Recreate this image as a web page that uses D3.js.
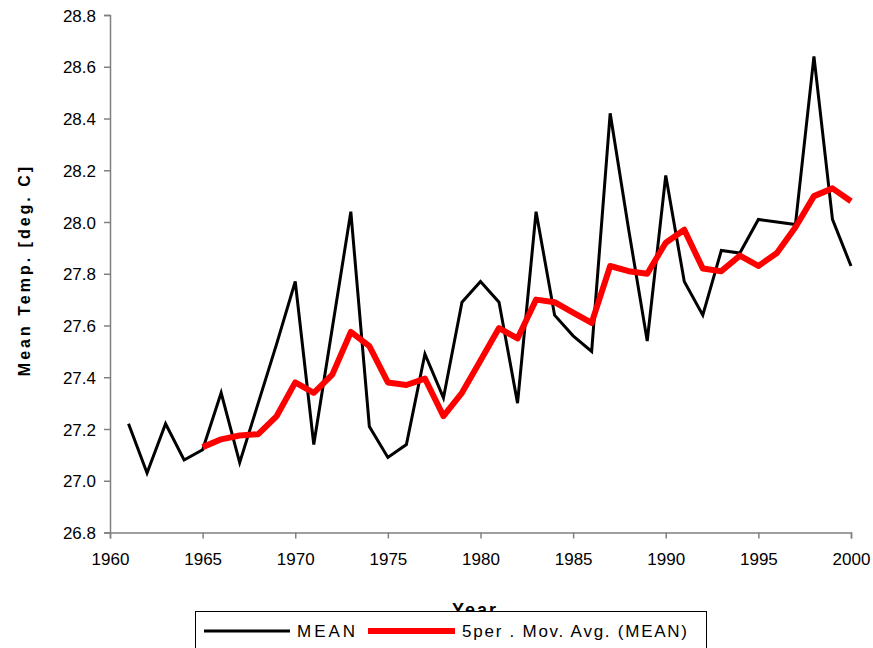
<!DOCTYPE html>
<html>
<head>
<meta charset="utf-8">
<script src="https://cdn.jsdelivr.net/npm/d3@7"></script>
<style>
  html, body { margin: 0; padding: 0; background: #fff; }
  svg { display: block; }
  text { font-family: "Liberation Sans", Arial, sans-serif; }
</style>
</head>
<body>
<svg id="chart" width="873" height="648"></svg>
<script>
const years = d3.range(1961, 2001);
const meanValues = [
  27.22, 27.03, 27.22, 27.08, 27.12, 27.34, 27.07, 27.30, 27.53, 27.77,
  27.14, 27.59, 28.04, 27.21, 27.09, 27.14, 27.49, 27.32, 27.69, 27.77,
  27.69, 27.30, 28.04, 27.64, 27.56, 27.50, 28.42, 27.97, 27.54, 28.18,
  27.77, 27.64, 27.89, 27.88, 28.01, 28.00, 27.99, 28.64, 28.01, 27.83
];
const movAvgYears = d3.range(1965, 2001);
const movAvgValues = [
  27.13, 27.16, 27.175, 27.18, 27.25, 27.38, 27.34, 27.41, 27.575, 27.52,
  27.38, 27.37, 27.395, 27.25, 27.34, 27.465, 27.59, 27.55, 27.70, 27.69,
  27.65, 27.61, 27.83, 27.81, 27.80, 27.92, 27.97, 27.82, 27.81, 27.87,
  27.83, 27.88, 27.98, 28.10, 28.13, 28.08
];
const yTicks = [26.8, 27.0, 27.2, 27.4, 27.6, 27.8, 28.0, 28.2, 28.4, 28.6, 28.8];
const xTicks = [1960, 1965, 1970, 1975, 1980, 1985, 1990, 1995, 2000];
const seriesNames = ["MEAN", "5per . Mov. Avg. (MEAN)"];

const svg = d3.select("#chart");
const x = d3.scaleLinear().domain([1960, 2000]).range([110, 851]);
const y = d3.scaleLinear().domain([26.8, 28.8]).range([532.5, 15]);

// axes
const xAxis = svg.append("g").attr("transform", "translate(0,532.5)")
  .call(d3.axisBottom(x).tickValues(xTicks).tickFormat(d3.format("d")).tickSize(6).tickPadding(14));
const yAxis = svg.append("g").attr("transform", "translate(110,0)")
  .call(d3.axisLeft(y).tickValues(yTicks).tickFormat(d3.format(".1f")).tickSize(6).tickPadding(8));
[xAxis, yAxis].forEach(a => {
  a.selectAll("path.domain").attr("stroke", "#808080").attr("stroke-width", 1.5);
  a.selectAll(".tick line").attr("stroke", "#808080").attr("stroke-width", 1.5);
  a.selectAll(".tick text").attr("fill", "#000").style("font-size", "17px")
    .style("font-family", "'Liberation Sans', Arial, sans-serif");
});
yAxis.selectAll(".tick text").attr("dy", "0.36em");

// lines
const line = d3.line().x(d => x(d[0])).y(d => y(d[1]));
svg.append("path")
  .datum(years.map((yr, i) => [yr, meanValues[i]]))
  .attr("fill", "none").attr("stroke", "#000").attr("stroke-width", 3)
  .attr("stroke-linejoin", "miter").attr("d", line);
svg.append("path")
  .datum(movAvgYears.map((yr, i) => [yr, movAvgValues[i]]))
  .attr("fill", "none").attr("stroke", "#ff0000").attr("stroke-width", 6)
  .attr("stroke-linejoin", "round").attr("d", line);

// axis titles
svg.append("text").attr("x", 475).attr("y", 616).attr("text-anchor", "middle")
  .style("font-size", "18px").style("font-weight", "bold").attr("letter-spacing", "2")
  .text("Year");
svg.append("text").attr("transform", "translate(30,270) rotate(-90)")
  .attr("text-anchor", "middle").style("font-size", "16px").style("font-weight", "bold")
  .attr("letter-spacing", "3").text("Mean Temp. [deg. C]");

// legend
const lg = svg.append("g");
lg.append("rect").attr("x", 195.5).attr("y", 611.5).attr("width", 511).attr("height", 50)
  .attr("fill", "#fff").attr("stroke", "#000").attr("stroke-width", 1);
lg.append("line").attr("x1", 204).attr("x2", 290).attr("y1", 631).attr("y2", 631)
  .attr("stroke", "#000").attr("stroke-width", 3);
lg.append("text").attr("x", 297).attr("y", 637).style("font-size", "17px")
  .attr("textLength", 58).attr("lengthAdjust", "spacing").text(seriesNames[0]);
lg.append("line").attr("x1", 368).attr("x2", 455).attr("y1", 631).attr("y2", 631)
  .attr("stroke", "#ff0000").attr("stroke-width", 6);
lg.append("text").attr("x", 462).attr("y", 637).style("font-size", "17px")
  .attr("textLength", 225).attr("lengthAdjust", "spacing").text(seriesNames[1]);
</script>
</body>
</html>
